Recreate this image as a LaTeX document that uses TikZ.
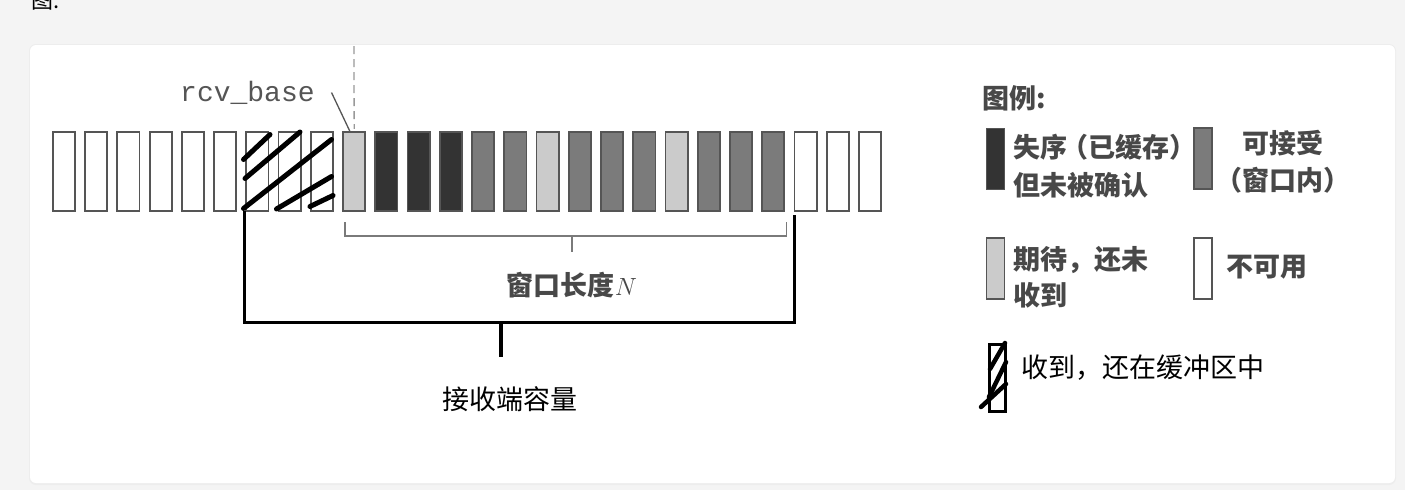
\documentclass[tikz,border=0pt]{standalone}
\usepackage{fontspec}
\setmainfont{Liberation Serif}
\newfontfamily\cjk{Noto Sans CJK SC}
\newfontfamily\monof{Liberation Mono}
\usetikzlibrary{calc}
\definecolor{bgc}{HTML}{F4F4F4}
\definecolor{darkfill}{HTML}{333333}
\definecolor{midfill}{HTML}{7B7B7B}
\definecolor{lightfill}{HTML}{CBCBCB}
\definecolor{edgec}{HTML}{555555}
\definecolor{scan}{HTML}{484848}
\definecolor{winc}{HTML}{7A7A7A}
\begin{document}
\begin{tikzpicture}[x=1pt,y=-1pt,
  cell/.style={draw=edgec, line width=1.8pt, minimum width=22.2pt, minimum height=79.2pt, inner sep=0pt, outer sep=0pt},
  cempty/.style={cell, fill=white},
  cdark/.style={cell, fill=darkfill},
  cmid/.style={cell, fill=midfill},
  clight/.style={cell, fill=lightfill},
  lgbox/.style={draw=edgec, line width=1.8pt, minimum width=18pt, minimum height=61pt, inner sep=0pt, outer sep=0pt},
  hatchln/.style={line width=5pt, line cap=round, black},
  bigbr/.style={line width=3.2pt, black},
  winbr/.style={line width=1.5pt, winc},
  scantxt/.style={font=\cjk\bfseries\fontsize{27}{32}\selectfont, text=scan, inner sep=0pt},
  screentxt/.style={font=\cjk\fontsize{27}{32}\selectfont, text=black, inner sep=0pt},
]
\useasboundingbox (0,0) rectangle (1405,490);
\fill[bgc] (0,0) rectangle (1405,490);
\fill[black!7, rounded corners=7pt] (29,44) rectangle (1396,485);
\fill[white, rounded corners=6pt] (30,45) rectangle (1395,483);
% cut-off heading
\node[anchor=base west, font=\cjk\fontsize{22}{26}\selectfont, inner sep=0pt] (head) at (31,8) {图:};

% cells
\foreach \i/\s in {0/cempty,1/cempty,2/cempty,3/cempty,4/cempty,5/cempty,6/cempty,7/cempty,8/cempty,
  9/clight,10/cdark,11/cdark,12/cdark,13/cmid,14/cmid,15/clight,16/cmid,17/cmid,18/cmid,19/clight,
  20/cmid,21/cmid,22/cmid,23/cempty,24/cempty,25/cempty}
  \node[\s] (b\i) at ({64+\i*32.24},171.5) {};

% hatching on received-but-buffered cells
\draw[hatchln] (243.5,159.5) -- (270,134.5);
\draw[hatchln] (245,178.5) -- (300,132);
\draw[hatchln] (243.5,208.5) -- (331.5,139.5);
\draw[hatchln] (276.5,209) -- (331.5,176.5);
\draw[hatchln] (310,206.5) -- (333,195.5);

% rcv_base label, leader and dashed line
\node[anchor=west, font=\monof\fontsize{28}{30}\selectfont, text=edgec, inner sep=0pt] (rcv) at (180,93) {rcv\_base};
\coordinate (lead) at (331.5,92.5);
\draw[line width=1.3pt, edgec] (lead) -- ($(b9.north)+(-4,0)$);
\coordinate (dtop) at (354,46);
\draw[line width=1.3pt, black!40, dash pattern=on 8pt off 5pt] (dtop) -- ($(b9.north)+(0,-3)$);

% window bracket
\draw[winbr] ($(b9.south west)+(2,11)$) -- ($(b9.south west)+(2,25)$) -- ($(b22.south east)+(2,25)$) -- ($(b22.south east)+(2,11)$);
\node[scantxt] (win) at (572,285) {窗口长度{\fontsize{29}{32}\selectfont$N$}};
\coordinate (wtick) at (572,236);
\draw[winbr] (wtick) -- ++(0,16);

% receiver capacity bracket
\draw[bigbr] ($(b6.south west)+(-1.5,0)$) -- ($(b6.south west)+(-1.5,111)$) -- ($(b23.south west)+(0,111)$) -- ($(b23.south west)+(0,4)$);
\coordinate (ctick) at (501,322);
\node[screentxt] (cap) at (510,399) {接收端容量};
\draw[bigbr] (ctick) -- ++(0,35);

% legend
\node[scantxt, anchor=west] (lgt) at (982,98) {图例:};
\node[lgbox, fill=darkfill] (l1) at (995.5,159) {};
\node[scantxt, anchor=west] (l1a) at (1013,147) {失序\kern-6pt（已缓存）};
\node[scantxt, anchor=west] (l1b) at (1013,185) {但未被确认};
\node[lgbox, fill=midfill] (l2) at (1203,158.5) {};
\node[scantxt] (l2a) at (1283,143) {可接受};
\node[scantxt] (l2b) at (1283,180) {（窗口内）};
\node[lgbox, fill=lightfill] (l3) at (995.5,268.5) {};
\node[scantxt, anchor=west] (l3a) at (1013,260) {期待，还未};
\node[scantxt, anchor=west] (l3b) at (1013,295) {收到};
\node[lgbox, fill=white] (l4) at (1203,268.5) {};
\node[scantxt, anchor=west] (l4a) at (1226,267) {不可用};
\node[draw=black, line width=3.2pt, minimum width=16pt, minimum height=67pt, inner sep=0pt, outer sep=0pt, fill=white] (l5) at (997.5,378) {};
\draw[hatchln, line width=4.5pt] (990,369) -- (1005,343);
\draw[hatchln, line width=4.5pt] (989,397) -- (1006,362);
\draw[hatchln, line width=4.5pt] (981,407) -- (1006,384);
\node[screentxt, anchor=west] (l5a) at (1021,368) {收到，还在缓冲区中};
\end{tikzpicture}
\end{document}
